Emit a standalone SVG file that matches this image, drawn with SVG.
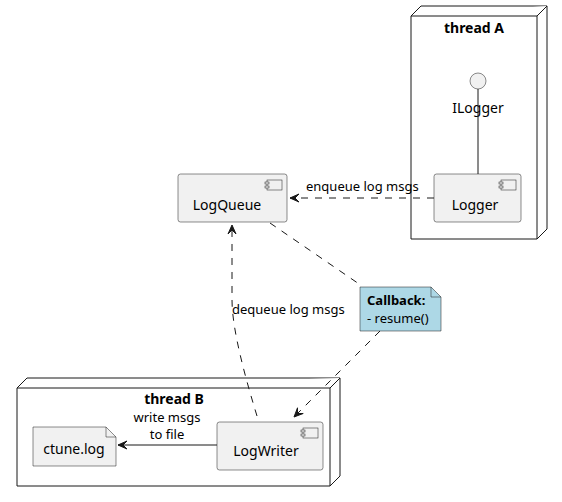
<svg xmlns="http://www.w3.org/2000/svg" width="562" height="502" viewBox="0 0 562 502">
<style>
text{font-family:"Noto Sans","DejaVu Sans",sans-serif;fill:#000}
.node{fill:#FFFFFF;stroke:#181818;stroke-width:1}
.comp{fill:#F1F1F1;stroke:#181818;stroke-width:0.5}
.icon{fill:#F1F1F1;stroke:#181818;stroke-width:0.5}
.title{font-size:14px;font-weight:bold;text-anchor:middle}
.lbl{font-size:14px;text-anchor:middle}
.elbl{font-size:13px}
.dash{fill:none;stroke:#181818;stroke-width:1;stroke-dasharray:7,7}
.solid{fill:none;stroke:#181818;stroke-width:1}
.head{fill:#181818;stroke:#181818;stroke-width:1}
</style>
<g id="threadA">
<polygon class="node" points="411,16 421,6 547,6 547,229 537,239 411,239"/>
<polyline class="node" points="411,16 537,16 547,6" fill="none"/>
<line class="node" x1="537" y1="16" x2="537" y2="239"/>
<text class="title" x="474" y="33">thread A</text>
</g>
<g id="ILogger">
<circle cx="478" cy="81" r="8" fill="#F1F1F1" stroke="#181818" stroke-width="0.5"/>
<text class="lbl" x="478" y="113">ILogger</text>
</g>
<g id="Logger">
<rect class="comp" x="434" y="174" width="87" height="48" rx="2.5"/>
<rect class="icon" x="501" y="180" width="15" height="10"/>
<rect class="icon" x="499" y="182" width="4" height="2"/>
<rect class="icon" x="499" y="186" width="4" height="2"/>
<text class="lbl" x="475" y="210">Logger</text>
</g>
<g id="LogQueue">
<rect class="comp" x="178" y="174" width="109" height="48" rx="2.5"/>
<rect class="icon" x="267" y="180" width="15" height="10"/>
<rect class="icon" x="265" y="182" width="4" height="2"/>
<rect class="icon" x="265" y="186" width="4" height="2"/>
<text class="lbl" x="227" y="210">LogQueue</text>
</g>
<g id="note">
<polygon points="360,287 431,287 441,297 441,331 360,331" fill="#ADD8E6" stroke="#181818" stroke-width="0.5"/>
<polyline points="431,287 431,297 441,297" fill="none" stroke="#181818" stroke-width="0.5"/>
<text class="elbl" x="367" y="305" font-weight="bold">Callback:</text>
<text class="elbl" x="367" y="323">- resume()</text>
</g>
<g id="threadB">
<polygon class="node" points="17,388 27,378 340,378 340,476 330,486 17,486"/>
<polyline class="node" points="17,388 330,388 340,378" fill="none"/>
<line class="node" x1="330" y1="388" x2="330" y2="486"/>
<text class="title" x="174" y="404">thread B</text>
</g>
<g id="LogWriter">
<rect class="comp" x="217" y="422" width="106" height="48" rx="2.5"/>
<rect class="icon" x="303" y="428" width="15" height="10"/>
<rect class="icon" x="301" y="430" width="4" height="2"/>
<rect class="icon" x="301" y="434" width="4" height="2"/>
<text class="lbl" x="266" y="456">LogWriter</text>
</g>
<g id="ctunelog">
<polygon class="comp" points="33,427 106,427 116,437 116,466 33,466" stroke-linejoin="round"/>
<polyline points="106,427 106,437 116,437" fill="none" stroke="#181818" stroke-width="0.5"/>
<text class="lbl" x="74" y="454">ctune.log</text>
</g>
<g id="connectors">
<line class="solid" x1="478" y1="89" x2="478" y2="174"/>
<line class="dash" x1="434" y1="198" x2="290" y2="198"/>
<polygon class="head" points="290,198 299,202 295,198 299,194"/>
<text class="elbl" x="306" y="191">enqueue log msgs</text>
<line class="dash" x1="270" y1="223" x2="362" y2="286"/>
<path class="dash" d="M257,416 C246,380 232,330 232,300 L232,226"/>
<polygon class="head" points="232,225 228,234 232,230 236,234"/>
<text class="elbl" x="232" y="314">dequeue log msgs</text>
<line class="dash" x1="380" y1="331" x2="294" y2="417"/>
<polygon class="head" points="294,417 297.5,407.8 297.5,413.5 303.2,413.5"/>
<line class="solid" x1="217" y1="445" x2="118" y2="445"/>
<polygon class="head" points="118,445 127,449 123,445 127,441"/>
<text class="elbl" x="167" y="422" text-anchor="middle">write msgs</text>
<text class="elbl" x="167" y="439" text-anchor="middle">to file</text>
</g>
</svg>
